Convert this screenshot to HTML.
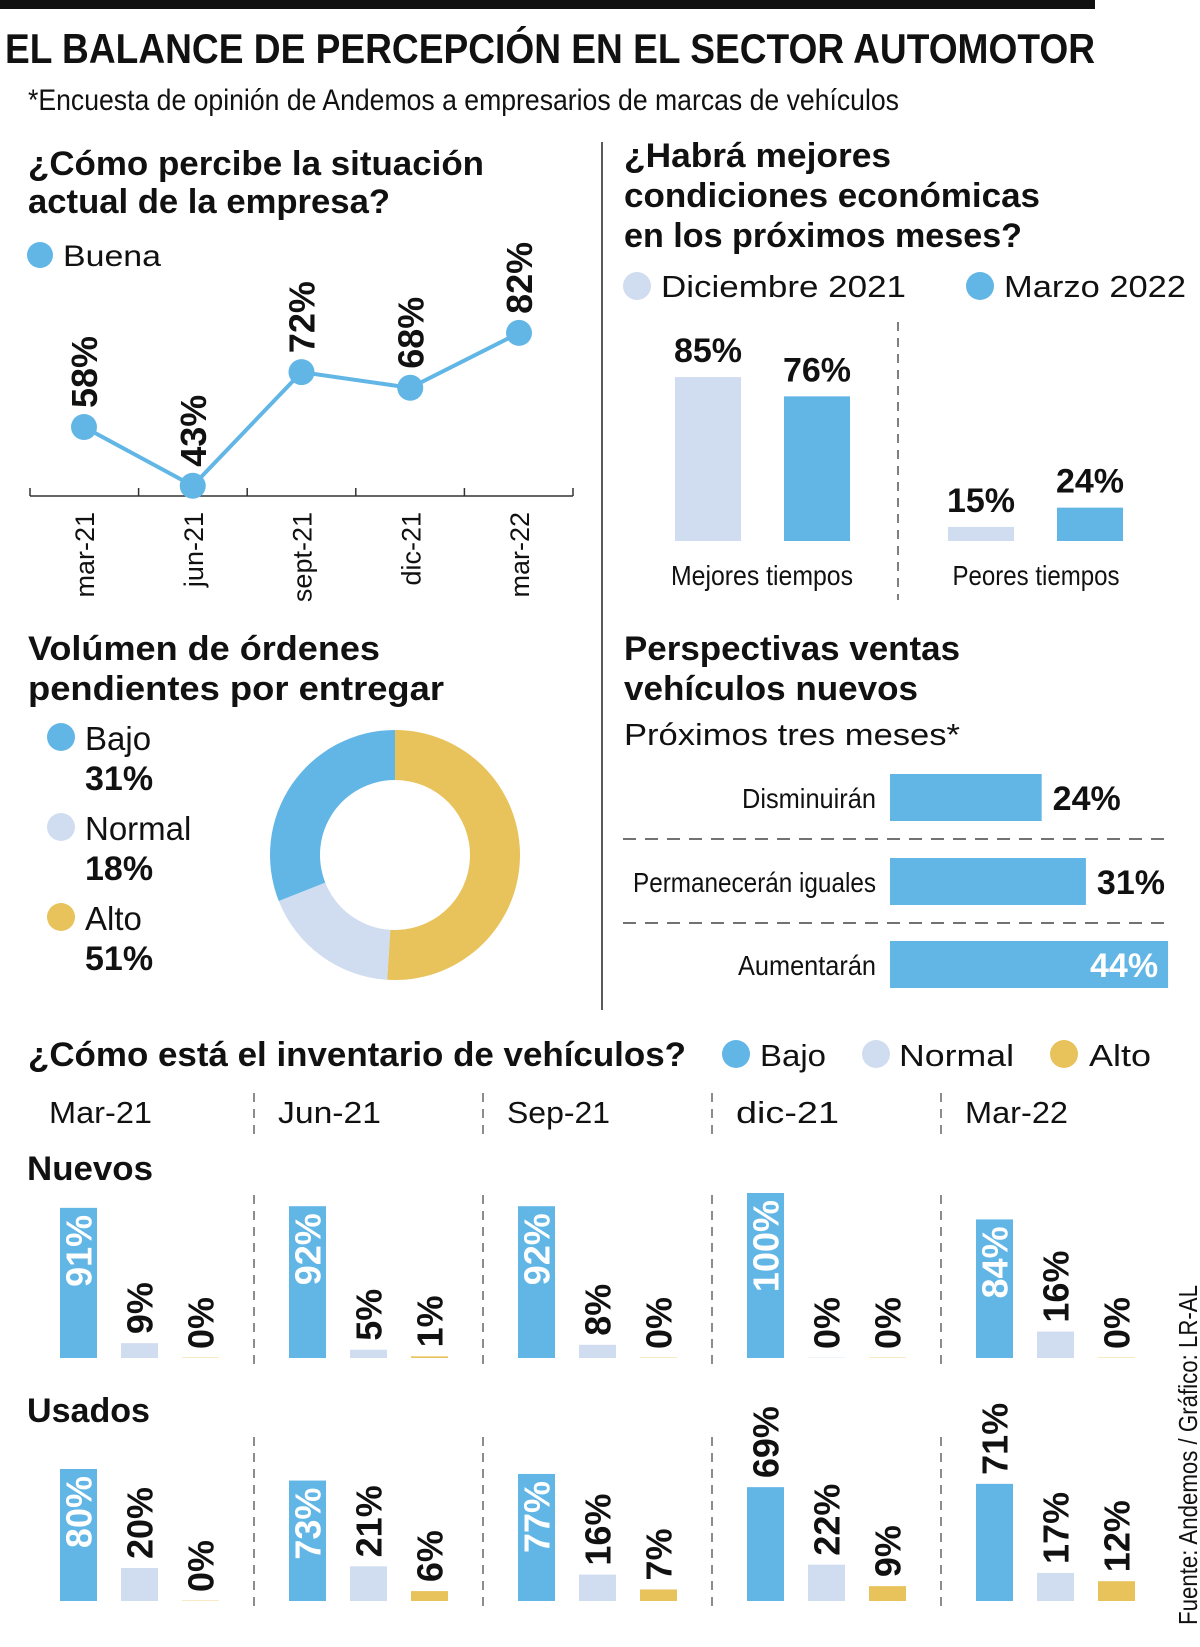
<!DOCTYPE html>
<html><head><meta charset="utf-8">
<style>
html,body{margin:0;padding:0;background:#fff;}
svg{display:block;font-family:"Liberation Sans Narrow","Liberation Sans",sans-serif;}
.b{font-family:"Liberation Sans",sans-serif;font-weight:bold;fill:#111;}
.l{font-family:"Liberation Sans Narrow","Liberation Sans",sans-serif;fill:#111;}
</style></head>
<body>
<svg id="root" width="1200" height="1647" viewBox="0 0 1200 1647" xmlns="http://www.w3.org/2000/svg">
<rect x="0" y="0" width="1095" height="9" fill="#111"/>
<text class="b" x="5" y="63" font-size="42" textLength="1090" lengthAdjust="spacingAndGlyphs">EL BALANCE DE PERCEPCIÓN EN EL SECTOR AUTOMOTOR</text>
<text class="l" x="28" y="110" font-size="30" textLength="871" lengthAdjust="spacingAndGlyphs">*Encuesta de opinión de Andemos a empresarios de marcas de vehículos</text>
<line x1="602" y1="142" x2="602" y2="1010" stroke="#222" stroke-width="1.5"/>

<!-- line chart -->
<text class="b" x="28" y="175" font-size="34" textLength="456" lengthAdjust="spacingAndGlyphs">¿Cómo percibe la situación</text>
<text class="b" x="28" y="213" font-size="34" textLength="362" lengthAdjust="spacingAndGlyphs">actual de la empresa?</text>
<circle cx="40" cy="255" r="13" fill="#62b6e6"/>
<text class="l" x="63" y="266" font-size="30" textLength="98" lengthAdjust="spacingAndGlyphs">Buena</text>
<g id="lineChart"></g>

<!-- grouped bars -->
<text class="b" x="624" y="167" font-size="34" textLength="267" lengthAdjust="spacingAndGlyphs">¿Habrá mejores</text>
<text class="b" x="624" y="207" font-size="34" textLength="416" lengthAdjust="spacingAndGlyphs">condiciones económicas</text>
<text class="b" x="624" y="247" font-size="34" textLength="398" lengthAdjust="spacingAndGlyphs">en los próximos meses?</text>
<circle cx="637" cy="286" r="14" fill="#d0dcf0"/>
<text class="l" x="661" y="297" font-size="31" textLength="245" lengthAdjust="spacingAndGlyphs">Diciembre 2021</text>
<circle cx="980" cy="286" r="14" fill="#62b6e6"/>
<text class="l" x="1004" y="297" font-size="31" textLength="182" lengthAdjust="spacingAndGlyphs">Marzo 2022</text>
<line x1="898" y1="322" x2="898" y2="600" stroke="#555" stroke-width="1.5" stroke-dasharray="9,7"/>
<g id="groupBars"></g>

<!-- donut -->
<text class="b" x="28" y="660" font-size="34" textLength="352" lengthAdjust="spacingAndGlyphs">Volúmen de órdenes</text>
<text class="b" x="28" y="700" font-size="34" textLength="416" lengthAdjust="spacingAndGlyphs">pendientes por entregar</text>
<g id="donut"></g>

<!-- hbar -->
<text class="b" x="624" y="660" font-size="34" textLength="336" lengthAdjust="spacingAndGlyphs">Perspectivas ventas</text>
<text class="b" x="624" y="700" font-size="34" textLength="294" lengthAdjust="spacingAndGlyphs">vehículos nuevos</text>
<text class="l" x="624" y="745" font-size="31" textLength="336" lengthAdjust="spacingAndGlyphs">Próximos tres meses*</text>
<line x1="623" y1="839" x2="1166" y2="839" stroke="#444" stroke-width="1.5" stroke-dasharray="13,9"/>
<line x1="623" y1="923" x2="1166" y2="923" stroke="#444" stroke-width="1.5" stroke-dasharray="13,9"/>
<g id="hbars"></g>

<!-- inventory -->
<text class="b" x="28" y="1066" font-size="34" textLength="658" lengthAdjust="spacingAndGlyphs">¿Cómo está el inventario de vehículos?</text>
<circle cx="736" cy="1054" r="14" fill="#62b6e6"/>
<text class="l" x="760" y="1066" font-size="31" textLength="66" lengthAdjust="spacingAndGlyphs">Bajo</text>
<circle cx="876" cy="1054" r="14" fill="#d0dcf0"/>
<text class="l" x="899" y="1066" font-size="31" textLength="115" lengthAdjust="spacingAndGlyphs">Normal</text>
<circle cx="1064" cy="1054" r="14" fill="#e8c25a"/>
<text class="l" x="1089" y="1066" font-size="31" textLength="62" lengthAdjust="spacingAndGlyphs">Alto</text>
<text class="b" x="27" y="1180" font-size="34" textLength="126" lengthAdjust="spacingAndGlyphs">Nuevos</text>
<text class="b" x="27" y="1422" font-size="34" textLength="123" lengthAdjust="spacingAndGlyphs">Usados</text>
<g id="inventory"></g>

<text class="l" transform="translate(1197,1625) rotate(-90)" font-size="26" textLength="340" lengthAdjust="spacingAndGlyphs">Fuente: Andemos / Gráfico: LR-AL</text>
</svg>
<script>
// ---- data ----
const lineCats = ["mar-21","jun-21","sept-21","dic-21","mar-22"];
const lineVals = [58,43,72,68,82];

const groupCats = ["Mejores tiempos","Peores tiempos"];
const dic2021Vals = [85,15];
const mar2022Vals = [76,24];

const donutLabels = ["Alto","Normal","Bajo"];
const donutVals = [51,18,31];

const hbarCats = ["Disminuirán","Permanecerán iguales","Aumentarán"];
const hbarVals = [24,31,44];

const invPeriods = ["Mar-21","Jun-21","Sep-21","dic-21","Mar-22"];
const nuevosBajo = [91,92,92,100,84];
const nuevosNormal = [9,5,8,0,16];
const nuevosAlto = [0,1,0,0,0];
const usadosBajo = [80,73,77,69,71];
const usadosNormal = [20,21,16,22,17];
const usadosAlto = [0,6,7,9,12];

const NS="http://www.w3.org/2000/svg";
const BLUE="#62b6e6", LIGHT="#d0dcf0", GOLD="#e8c25a";
function mk(tag, parent, attrs){const e=document.createElementNS(NS,tag);for(const k in attrs)e.setAttribute(k,attrs[k]);parent.appendChild(e);return e;}

// ---- line chart ----
(function(){
  const g=document.getElementById('lineChart');
  const x=i=>84+i*108.75;
  const y=v=>427-(v-58)*3.92;
  const ax=mk('line',g,{x1:30,y1:496,x2:573,y2:496,stroke:'#333','stroke-width':1.5});
  
  
  for(let i=0;i<=lineCats.length;i++){
    const tx=30+i*108.6;
    const t=mk('line',g,{x1:tx,y1:488,x2:tx,y2:496,stroke:'#333','stroke-width':1.5});
    
    
  }
  const pts=lineVals.map((v,i)=>x(i)+','+y(v)).join(' ');
  const pl=mk('polyline',g,{points:pts,fill:'none',stroke:BLUE,'stroke-width':4});
  
  
  lineVals.forEach((v,i)=>{
    const c=mk('circle',g,{cx:x(i),cy:y(v),r:13,fill:BLUE});
    
    
    const t=mk('text',g,{class:'b','font-size':36,transform:`translate(${x(i)+13},${y(v)-19}) rotate(-90)`});
    t.textContent=v+'%';
    
    
    const l=mk('text',g,{class:'l','font-size':27,'text-anchor':'end',transform:`translate(${x(i)+10},512) rotate(-90)`});
    l.textContent=lineCats[i];
    
    
  });
})();

// ---- grouped bars ----
(function(){
  const g=document.getElementById('groupBars');
  const base=541;
  const h=v=>Math.max(0,2.14*v-18);
  const gx=[675,948], w=66, off=109;
  groupCats.forEach((c,i)=>{
    [[dic2021Vals,LIGHT,0,'dic-2021'],[mar2022Vals,BLUE,off,'mar-2022']].forEach(([arr,col,o,nm])=>{
      const v=arr[i], top=base-h(v);
      const r=mk('rect',g,{x:gx[i]+o,y:top,width:w,height:h(v),fill:col});
      
      
      const t=mk('text',g,{class:'b','font-size':34,'text-anchor':'middle',x:gx[i]+o+w/2,y:top-15});
      t.textContent=v+'%';
      
      
    });
    const lab=mk('text',g,{class:'l','font-size':28,'text-anchor':'middle',x:[762,1036][i],y:585,textLength:[182,167][i],lengthAdjust:'spacingAndGlyphs'});
    lab.textContent=c;
    
    
  });
})();

// ---- donut ----
(function(){
  const g=document.getElementById('donut');
  const cx=395, cy=855, R=125, r=75;
  const cols=[GOLD,LIGHT,BLUE];
  const tot=donutVals.reduce((a,b)=>a+b,0);
  let acc=0;
  const pt=(rad,a)=>[cx+rad*Math.sin(a), cy-rad*Math.cos(a)];
  donutVals.forEach((v,i)=>{
    const a0=acc/tot*2*Math.PI; acc+=v; const a1=acc/tot*2*Math.PI;
    const lg=(a1-a0)>Math.PI?1:0;
    const [x0,y0]=pt(R,a0),[x1,y1]=pt(R,a1),[x2,y2]=pt(r,a1),[x3,y3]=pt(r,a0);
    const p=mk('path',g,{d:`M${x0},${y0}A${R},${R} 0 ${lg} 1 ${x1},${y1}L${x2},${y2}A${r},${r} 0 ${lg} 0 ${x3},${y3}Z`,fill:cols[i]});
    
    
  });
  const order=[2,1,0];
  order.forEach((k,j)=>{
    const yy=737+j*90;
    const c=mk('circle',g,{cx:61,cy:yy,r:14,fill:cols[k]});
    
    
    const t=mk('text',g,{class:'l','font-size':33,x:85,y:yy+13});
    t.textContent=donutLabels[k];
    
    
    const p=mk('text',g,{class:'b','font-size':34,x:85,y:yy+53});
    p.textContent=donutVals[k]+'%';
    
    
  });
})();

// ---- horizontal bars ----
(function(){
  const g=document.getElementById('hbars');
  const x0=890, sc=6.32;
  const ys=[774,858,941], lw=[134,243,138];
  hbarCats.forEach((c,i)=>{
    const w=hbarVals[i]*sc;
    const r=mk('rect',g,{x:x0,y:ys[i],width:w,height:47,fill:BLUE});
    
    
    const l=mk('text',g,{class:'l','font-size':28,'text-anchor':'end',x:876,y:ys[i]+34,textLength:lw[i],lengthAdjust:'spacingAndGlyphs'});
    l.textContent=c;
    
    
    const inside=(x0+w+80>1170);
    const v=mk('text',g,{class:'b','font-size':34,x:inside?x0+w-10:x0+w+11,y:ys[i]+36,'text-anchor':inside?'end':'start'});
    if(inside) v.setAttribute('style','fill:#fff');
    v.textContent=hbarVals[i]+'%';
    
    
  });
})();

// ---- inventory ----
(function(){
  const g=document.getElementById('inventory');
  const colX=i=>60+i*229;
  const sc=1.65, bw=37;
  invPeriods.forEach((p,i)=>{
    const t=mk('text',g,{class:'l','font-size':31,x:49+i*229,y:1123,textLength:103,lengthAdjust:'spacingAndGlyphs'});
    t.textContent=p;
    
    
    if(i>0){
      const dx=254+(i-1)*229;
      [[1093,1135],[1195,1367],[1437,1608]].forEach(([a,b])=>{
        const d=mk('line',g,{x1:dx,y1:a,x2:dx,y2:b,stroke:'#666','stroke-width':1.5,'stroke-dasharray':'9,7'});
        
        
      });
    }
  });
  const rows=[[1358,nuevosBajo,nuevosNormal,nuevosAlto,'nuevos'],[1601,usadosBajo,usadosNormal,usadosAlto,'usados']];
  rows.forEach(([base,bajo,normal,alto,nm])=>{
    invPeriods.forEach((p,i)=>{
      [[bajo,BLUE,0,'bajo'],[normal,LIGHT,61,'normal'],[alto,GOLD,122,'alto']].forEach(([arr,col,o,s])=>{
        const v=arr[i], h=v*sc, x=colX(i)+o, top=base-h;
        const r=mk('rect',g,{x:x,y:h>0?top:base-1,width:bw,height:h>0?h:1,fill:col,opacity:h>0?1:0.35});
        
        
        const inside=(s==='bajo'&&v>=72);
        const tx=x+bw/2+13;
        const t=mk('text',g,{class:'b','font-size':36,transform:inside?`translate(${tx},${top+7}) rotate(-90)`:`translate(${tx},${top-9}) rotate(-90)`});
        if(inside){t.setAttribute('text-anchor','end');t.setAttribute('style','fill:#fff');}
        else t.setAttribute('text-anchor','start');
        t.textContent=v+'%';
        
        
      });
    });
  });
})();
</script>
</body></html>
